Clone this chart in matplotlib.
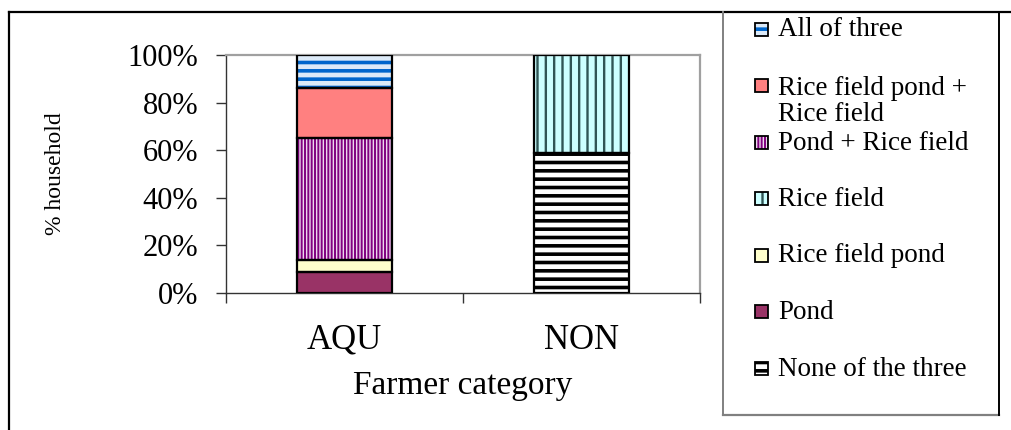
import numpy as np
import matplotlib
matplotlib.use('Agg')
import matplotlib.pyplot as plt
from matplotlib.patches import Rectangle
from matplotlib.lines import Line2D

plt.rcParams['font.family'] = 'Liberation Serif'

categories = ['AQU', 'NON']

# % of households in each category (stacked bottom -> top)
none_three = [0, 59]
pond = [9, 0]
rice_field_pond = [5, 0]
rice_field = [0, 41]
pond_rice_field = [51, 0]
rfp_rice_field = [21, 0]
all_three = [14, 0]

y_ticks = [0, 20, 40, 60, 80, 100]

layers = [
    ('None of the three', none_three,
     dict(face='white', hatch='--', hc='black', hlw=2.6)),
    ('Pond', pond,
     dict(face='#993366', hatch=None, hc='#993366', hlw=1.0)),
    ('Rice field pond', rice_field_pond,
     dict(face='#FFFFCC', hatch=None, hc='#FFFFCC', hlw=1.0)),
    ('Rice field', rice_field,
     dict(face='#CCFFFF', hatch='||', hc='#2F5555', hlw=1.7)),
    ('Pond + Rice field', pond_rice_field,
     dict(face='#ECD8EC', hatch='|||||', hc='#800080', hlw=1.4)),
    ('Rice field pond +\nRice field', rfp_rice_field,
     dict(face='#FF8080', hatch=None, hc='#FF8080', hlw=1.0)),
    ('All of three', all_three,
     dict(face='#DCEAF8', hatch='--', hc='#0066CC', hlw=2.6)),
]

W, H = 1011, 430
fig = plt.figure(figsize=(W / 100, H / 100), dpi=100)
ax = fig.add_axes([226 / W, 1 - 293 / H, 474 / W, 238 / H])


def styled_patch(p, st):
    p.set_facecolor(st['face'])
    p.set_edgecolor(st['hc'])
    p.set_linewidth(0)
    if st['hatch']:
        p.set_hatch(st['hatch'])
        if hasattr(p, 'set_hatch_linewidth'):
            p.set_hatch_linewidth(st['hlw'])


x = np.arange(len(categories))
bottom = np.zeros(len(categories))
for name, vals, st in layers:
    v = np.array(vals, dtype=float) / 100
    keep = v > 0
    with plt.rc_context({'hatch.linewidth': st['hlw']}):
        bars = ax.bar(x[keep], v[keep], 0.4, bottom=bottom[keep], zorder=2)
        for b in bars:
            styled_patch(b, st)
    ax.bar(x[keep], v[keep], 0.4, bottom=bottom[keep], fill=False,
           edgecolor='black', linewidth=1.6, zorder=3)
    bottom += v

ax.set_xlim(-0.5, 1.5)
ax.set_ylim(0, 1)
ax.set_yticks(np.array(y_ticks) / 100)
ax.set_yticklabels([f'{t}%' for t in y_ticks], fontsize=22)
ax.set_xticks(x)
ax.set_xticklabels(categories, fontsize=25)
ax.set_xticks([-0.5, 0.5, 1.5], minor=True)
ax.tick_params(axis='y', direction='out', length=7, width=1, color='#333333', pad=13)
ax.tick_params(axis='x', which='major', length=0, pad=22)
ax.tick_params(axis='x', which='minor', direction='out', length=7, width=1, color='#333333')

for side in ('left', 'bottom'):
    ax.spines[side].set_color('#333333')
    ax.spines[side].set_linewidth(1.0)
for side in ('top', 'right'):
    ax.spines[side].set_color('#A0A0A0')
    ax.spines[side].set_linewidth(1.6)

ax.set_ylabel('% household', fontsize=17)
ax.yaxis.set_label_coords(-0.338, 0.5)
ax.set_xlabel('Farmer category', fontsize=24)
ax.xaxis.set_label_coords(0.5, -0.325)


def fx(px):
    return px / W


def fy(py):
    return 1 - py / H


# outer frame and legend box
fig.add_artist(Line2D([fx(9), fx(9)], [0, fy(12)], color='black', lw=1.6))
fig.add_artist(Line2D([fx(9), 1], [fy(12), fy(12)], color='black', lw=1.6))
fig.add_artist(Line2D([fx(723), fx(723)], [fy(12), fy(415)], color='#808080', lw=1.4))
fig.add_artist(Line2D([fx(723), fx(999)], [fy(415), fy(415)], color='#808080', lw=1.6))
fig.add_artist(Line2D([fx(999), fx(999)], [fy(12), fy(415)], color='black', lw=1.4))

# legend, top entry first
for i, (name, vals, st) in enumerate(layers[::-1]):
    yc = 29 + 56.5 * i
    sq = Rectangle((fx(755), fy(yc + 6.5)), 13 / W, 13 / H, transform=fig.transFigure)
    with plt.rc_context({'hatch.linewidth': st['hlw']}):
        styled_patch(sq, st)
        fig.add_artist(sq)
    fig.add_artist(Rectangle((fx(755), fy(yc + 6.5)), 13 / W, 13 / H,
                             transform=fig.transFigure, fill=False,
                             edgecolor='black', linewidth=1.3))
    # baseline alignment follows the last line of a wrapped label
    extra = 28 * name.count('\n')
    fig.text(fx(778), fy(yc + 7.5 + extra), name, fontsize=19.5, va='baseline',
             ha='left', linespacing=1.05)

fig.savefig('out.png', dpi=100)
